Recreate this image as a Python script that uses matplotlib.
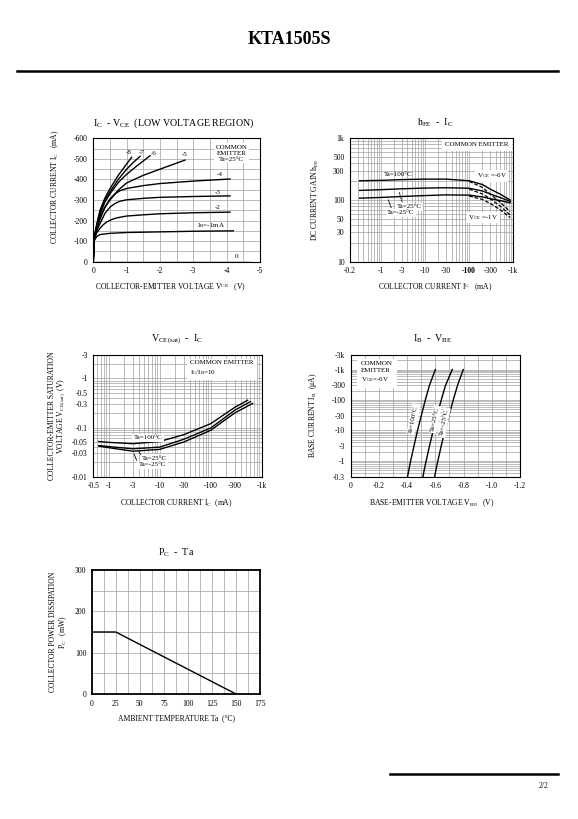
import numpy as np
import matplotlib
matplotlib.use("Agg")
import matplotlib.pyplot as plt
from matplotlib.lines import Line2D
from matplotlib.ticker import LogLocator, MultipleLocator, NullFormatter

plt.rcParams['font.family'] = 'Liberation Serif'
plt.rcParams['mathtext.fontset'] = 'custom'
plt.rcParams['mathtext.rm'] = 'Liberation Serif'
plt.rcParams['mathtext.it'] = 'Liberation Serif:italic'
plt.rcParams['mathtext.bf'] = 'Liberation Serif:bold'

# ---- IC - VCE data (VCE in V, IC in mA, shown as negative values) ----
vce_1 = [0, 0.02, 0.1, 0.2, 0.5, 1, 2, 3, 4.2]
ic_1 = [0, 100, 122, 132, 138, 142, 145, 148, 150]
vce_2 = [0, 0.02, 0.1, 0.2, 0.3, 0.4, 0.55, 0.7, 1, 1.5, 2, 3, 4.1]
ic_2 = [0, 105, 140, 162, 180, 193, 205, 213, 222, 228, 233, 238, 241]
vce_3 = [0, 0.02, 0.1, 0.2, 0.35, 0.5, 0.65, 0.8, 1, 1.5, 2, 3, 4.1]
ic_3 = [0, 108, 150, 185, 235, 265, 283, 294, 301, 308, 313, 317, 320]
vce_4 = [0, 0.02, 0.1, 0.2, 0.35, 0.5, 0.65, 0.8, 1, 1.5, 2, 3, 4.1]
ic_4 = [0, 110, 160, 205, 265, 305, 330, 345, 356, 370, 380, 392, 402]
vce_5 = [0, 0.02, 0.1, 0.2, 0.35, 0.5, 0.75, 1, 1.5, 2, 2.75]
ic_5 = [0, 110, 165, 220, 265, 300, 348, 383, 420, 450, 494]
vce_6 = [0, 0.02, 0.1, 0.2, 0.35, 0.5, 0.75, 1, 1.3, 1.7]
ic_6 = [0, 112, 170, 230, 290, 330, 385, 425, 465, 515]
vce_7 = [0, 0.02, 0.1, 0.2, 0.35, 0.5, 0.75, 1, 1.2, 1.4]
ic_7 = [0, 112, 175, 240, 300, 340, 400, 450, 483, 512]
vce_8 = [0, 0.02, 0.1, 0.2, 0.35, 0.5, 0.75, 1, 1.15]
ic_8 = [0, 112, 180, 250, 310, 355, 420, 475, 508]
vce_0 = [0, 4.7]
ic_0 = [0, 0]

# ---- hFE - IC data ----
ic_gain = [0.33, 1, 3, 10, 30, 100, 200, 300, 500, 850]
hfe_100_6v = [205, 208, 214, 218, 218, 205, 178, 150, 125, 100]
hfe_100_1v = [205, 208, 214, 218, 218, 200, 160, 125, 92, 65]
hfe_25_6v = [143, 147, 152, 156, 158, 155, 140, 125, 110, 95]
hfe_25_1v = [143, 147, 152, 156, 158, 150, 125, 105, 80, 57]
hfe_m25_6v = [107, 110, 114, 118, 121, 120, 112, 105, 98, 90]
hfe_m25_1v = [107, 110, 114, 118, 121, 116, 102, 88, 70, 52]

# ---- VCE(sat) - IC data ----
ic_sat_100 = [0.64, 1, 3, 10, 30, 100, 300, 530]
vsat_100 = [0.052, 0.050, 0.047, 0.052, 0.072, 0.12, 0.26, 0.36]
ic_sat_25 = [0.64, 1, 3, 10, 30, 100, 300, 600]
vsat_25 = [0.043, 0.041, 0.037, 0.040, 0.058, 0.098, 0.227, 0.337]
ic_sat_m25 = [0.64, 1, 3, 10, 30, 100, 300, 665]
vsat_m25 = [0.042, 0.039, 0.033, 0.036, 0.051, 0.088, 0.20, 0.31]

# ---- IB - VBE data ----
ib_base = [0.3, 0.5, 1, 3, 10, 30, 100, 300, 1000]
vbe_100 = [0.403, 0.412, 0.425, 0.448, 0.474, 0.50, 0.529, 0.558, 0.600]
vbe_25 = [0.512, 0.521, 0.535, 0.558, 0.585, 0.612, 0.642, 0.672, 0.720]
vbe_m25 = [0.595, 0.604, 0.618, 0.641, 0.668, 0.696, 0.727, 0.757, 0.798]

# ---- PC - Ta data ----
ta = [0, 25, 150]
pc = [150, 150, 0]

# ---- tick labels ----
vce_ticks = [0, 1, 2, 3, 4, 5]
vce_labels = ["0", "-1", "-2", "-3", "-4", "-5"]
ic_ticks = [0, 100, 200, 300, 400, 500, 600]
ic_labels = ["0", "-100", "-200", "-300", "-400", "-500", "-600"]
gain_xticks = [0.2, 1, 3, 10, 30, 100, 300, 1000]
gain_xlabels = ["-0.2", "-1", "-3", "-10", "-30", "-100", "-300", "-1k"]
gain_yticks = [10, 30, 50, 100, 300, 500, 1000]
gain_ylabels = ["10", "30", "50", "100", "300", "500", "1k"]
sat_xticks = [0.5, 1, 3, 10, 30, 100, 300, 1000]
sat_xlabels = ["-0.5", "-1", "-3", "-10", "-30", "-100", "-300", "-1k"]
sat_yticks = [0.01, 0.03, 0.05, 0.1, 0.3, 0.5, 1, 3]
sat_ylabels = ["-0.01", "-0.03", "-0.05", "-0.1", "-0.3", "-0.5", "-1", "-3"]
vbe_ticks = [0, 0.2, 0.4, 0.6, 0.8, 1.0, 1.2]
vbe_labels = ["0", "-0.2", "-0.4", "-0.6", "-0.8", "-1.0", "-1.2"]
ib_ticks = [0.3, 1, 3, 10, 30, 100, 300, 1000, 3000]
ib_labels = ["-0.3", "-1", "-3", "-10", "-30", "-100", "-300", "-1k", "-3k"]
ta_ticks = [0, 25, 50, 75, 100, 125, 150, 175]
pc_ticks = [0, 100, 200, 300]

W, H = 578, 819
fig = plt.figure(figsize=(W / 100, H / 100), dpi=100)


def box(l, t, r, b):
    return [l / W, 1 - b / H, (r - l) / W, (b - t) / H]


def ftext(x, y, s, **kw):
    kw.setdefault('ha', 'center')
    kw.setdefault('va', 'center')
    fig.text(x / W, 1 - y / H, s, **kw)


def style(ax, lw=0.8):
    for s in ax.spines.values():
        s.set_linewidth(lw)
    ax.tick_params(which='both', length=0, labelsize=5.5, pad=4)
    ax.grid(which='both', color='#a0a0a0', lw=0.5)
    ax.set_axisbelow(True)


white = dict(facecolor='white', edgecolor='none', pad=1.0)

# header / footer
ftext(289, 40, "KTA1505S", fontsize=13, weight='bold')
fig.add_artist(Line2D([17 / W, 558 / W], [1 - 71 / H, 1 - 71 / H], color='k', lw=1.8))
fig.add_artist(Line2D([390 / W, 558 / W], [1 - 774 / H, 1 - 774 / H], color='k', lw=1.8))
ftext(544, 786, "2/2", fontsize=5.5)

# ---------------- IC - VCE ----------------
ax1 = fig.add_axes(box(93.3, 138.3, 260, 261.7))
style(ax1)
ax1.set_xlim(0, 5)
ax1.set_ylim(0, 600)
ax1.set_xticks(vce_ticks)
ax1.set_xticklabels(vce_labels)
ax1.set_yticks(ic_ticks)
ax1.set_yticklabels(ic_labels)
ax1.xaxis.set_minor_locator(MultipleLocator(0.5))
ax1.yaxis.set_minor_locator(MultipleLocator(50))
for xs, ys in [(vce_0, ic_0), (vce_1, ic_1), (vce_2, ic_2), (vce_3, ic_3), (vce_4, ic_4),
               (vce_5, ic_5), (vce_6, ic_6), (vce_7, ic_7), (vce_8, ic_8)]:
    ax1.plot(xs, ys, color='k', lw=1.0)
ax1.text(3.1, 176, "I$_\\mathrm{B}$=-1mA", fontsize=5, va='center')
ax1.text(3.65, 262, "-2", fontsize=5, va='center')
ax1.text(3.65, 338, "-3", fontsize=5, va='center')
ax1.text(3.7, 422, "-4", fontsize=5, va='center')
ax1.text(2.65, 522, "-5", fontsize=5, va='center')
ax1.text(1.72, 528, "-6", fontsize=5, va='center')
ax1.text(1.36, 532, "-7", fontsize=5, va='center')
ax1.text(0.98, 532, "-8", fontsize=5, va='center')
ax1.text(4.25, 25, "0", fontsize=5, va='center')
ax1.text(4.15, 527, "COMMON\nEMITTER\nTa=25°C", fontsize=5, ha='center', va='center',
         linespacing=1.3, bbox=white)
ftext(174, 123, "I$_\\mathrm{C}$  - V$_\\mathrm{CE}$  (LOW VOLTAGE REGION)", fontsize=7.2)
ftext(170, 288, "COLLECTOR-EMITTER VOLTAGE V$^\\mathrm{CE}$   (V)", fontsize=5.5)
ftext(55, 187, "COLLECTOR CURRENT I$_\\mathrm{C}$   (mA)", fontsize=5.5, rotation=90)

# ---------------- hFE - IC ----------------
ax2 = fig.add_axes(box(350, 138.3, 513.3, 261.7))
style(ax2)
ax2.set_xscale('log')
ax2.set_yscale('log')
ax2.set_xlim(0.2, 1000)
ax2.set_ylim(10, 1000)
ax2.xaxis.set_minor_locator(LogLocator(subs=np.arange(2, 10)))
ax2.yaxis.set_minor_locator(LogLocator(subs=np.arange(2, 10)))
ax2.xaxis.set_minor_formatter(NullFormatter())
ax2.yaxis.set_minor_formatter(NullFormatter())
ax2.set_xticks(gain_xticks)
ax2.set_xticklabels(gain_xlabels)
ax2.set_yticks(gain_yticks)
ax2.set_yticklabels(gain_ylabels)
ax2.get_xticklabels()[5].set_weight('bold')
for ys in [hfe_100_6v, hfe_25_6v, hfe_m25_6v]:
    ax2.plot(ic_gain, ys, color='k', lw=1.0)
for ys in [hfe_100_1v, hfe_25_1v, hfe_m25_1v]:
    ax2.plot(ic_gain[5:], ys[5:], color='k', lw=0.9, ls=(0, (3, 1.5)))
ax2.text(1.2, 262, "Ta=100°C", fontsize=5, va='center')
ax2.text(2.3, 78, "Ta=25°C", fontsize=5, va='center', bbox=white)
ax2.text(1.4, 62, "Ta=-25°C", fontsize=5, va='center', bbox=white)
ax2.annotate("", xy=(2.5, 150), xytext=(3.1, 86),
             arrowprops=dict(arrowstyle='-', lw=0.6, ls=(0, (2, 1))))
ax2.annotate("", xy=(1.4, 111), xytext=(1.8, 68),
             arrowprops=dict(arrowstyle='-', lw=0.6, ls=(0, (2, 1))))
ax2.text(148, 245, "V$_\\mathrm{CE}$ =-6V", fontsize=5, va='center', bbox=white)
ax2.text(96, 52, "V$_\\mathrm{CE}$ =-1V", fontsize=5, va='center', bbox=white)
ax2.text(0.776, 0.946, "COMMON EMITTER", transform=ax2.transAxes, fontsize=5,
         ha='center', va='center', bbox=dict(facecolor='white', edgecolor='none', pad=2.5))
ftext(435, 123, "h$_\\mathrm{FE}$  -  I$_\\mathrm{C}$", fontsize=7.2)
ftext(435, 288, "COLLECTOR CURRENT I$^\\mathrm{C}$   (mA)", fontsize=5.5)
ftext(315, 200, "DC CURRENT GAIN h$_\\mathrm{FE}$", fontsize=5.5, rotation=90)

# ---------------- VCE(sat) - IC ----------------
ax3 = fig.add_axes(box(93.3, 355, 261.7, 476.7))
style(ax3)
ax3.set_xscale('log')
ax3.set_yscale('log')
ax3.set_xlim(0.5, 1000)
ax3.set_ylim(0.01, 3)
ax3.xaxis.set_minor_locator(LogLocator(subs=np.arange(2, 10)))
ax3.yaxis.set_minor_locator(LogLocator(subs=np.arange(2, 10)))
ax3.xaxis.set_minor_formatter(NullFormatter())
ax3.yaxis.set_minor_formatter(NullFormatter())
ax3.set_xticks(sat_xticks)
ax3.set_xticklabels(sat_xlabels)
ax3.set_yticks(sat_yticks)
ax3.set_yticklabels(sat_ylabels)
ax3.plot(ic_sat_100, vsat_100, color='k', lw=1.0)
ax3.plot(ic_sat_25, vsat_25, color='k', lw=1.0)
ax3.plot(ic_sat_m25, vsat_m25, color='k', lw=1.0)
ax3.text(3.1, 0.062, "Ta=100°C", fontsize=5, va='center', bbox=white)
ax3.text(4.5, 0.0238, "Ta=25°C", fontsize=5, va='center', bbox=white)
ax3.text(3.9, 0.0174, "Ta=-25°C", fontsize=5, va='center', bbox=white)
ax3.annotate("", xy=(3.6, 0.036), xytext=(4.6, 0.0255),
             arrowprops=dict(arrowstyle='-', lw=0.6))
ax3.annotate("", xy=(3.0, 0.033), xytext=(3.7, 0.019),
             arrowprops=dict(arrowstyle='-', lw=0.6))
ax3.text(0.575, 0.89, "COMMON EMITTER\nI$_\\mathrm{C}$/I$_\\mathrm{B}$=10", transform=ax3.transAxes,
         fontsize=5, ha='left', va='center', linespacing=1.4,
         bbox=dict(facecolor='white', edgecolor='none', pad=2.5))
ftext(177, 339, "V$_\\mathrm{CE(sat)}$  -  I$_\\mathrm{C}$", fontsize=7.2)
ftext(176, 503, "COLLECTOR CURRENT I$_\\mathrm{C}$  (mA)", fontsize=5.5)
ftext(51.7, 416, "COLLECTOR-EMITTER SATURATION", fontsize=5.5, rotation=90)
ftext(60.7, 416, "VOLTAGE V$_\\mathrm{CE(sat)}$  (V)", fontsize=5.5, rotation=90)

# ---------------- IB - VBE ----------------
ax4 = fig.add_axes(box(350.7, 355, 520, 476.7))
style(ax4)
ax4.set_yscale('log')
ax4.set_xlim(0, 1.2)
ax4.set_ylim(0.3, 3000)
ax4.xaxis.set_minor_locator(MultipleLocator(0.1))
ax4.yaxis.set_minor_locator(LogLocator(subs=np.arange(2, 10)))
ax4.yaxis.set_minor_formatter(NullFormatter())
ax4.set_xticks(vbe_ticks)
ax4.set_xticklabels(vbe_labels)
ax4.set_yticks(ib_ticks)
ax4.set_yticklabels(ib_labels)
ax4.plot(vbe_100, ib_base, color='k', lw=1.0)
ax4.plot(vbe_25, ib_base, color='k', lw=1.0)
ax4.plot(vbe_m25, ib_base, color='k', lw=1.0)
ax4.text(0.444, 23, "Ta=100°C", fontsize=5, rotation=78, ha='center', va='center', bbox=white)
ax4.text(0.597, 23, "Ta=25°C", fontsize=5, rotation=78, ha='center', va='center', bbox=white)
ax4.text(0.661, 18, "Ta=-25°C", fontsize=5, rotation=78, ha='center', va='center', bbox=white)
ax4.text(0.06, 0.855, "COMMON\nEMITTER\nV$_\\mathrm{CE}$=-6V", transform=ax4.transAxes,
         fontsize=5, ha='left', va='center', linespacing=1.35,
         bbox=dict(facecolor='white', edgecolor='none', pad=3))
ftext(433, 339, "I$_\\mathrm{B}$  -  V$_\\mathrm{BE}$", fontsize=7.2)
ftext(432, 503, "BASE-EMITTER VOLTAGE V$_\\mathrm{BE}$   (V)", fontsize=5.5)
ftext(313, 415, "BASE CURRENT I$_\\mathrm{B}$  (μA)", fontsize=5.5, rotation=90)

# ---------------- PC - Ta ----------------
ax5 = fig.add_axes(box(91.7, 570, 260, 694))
style(ax5, lw=1.3)
ax5.set_xlim(0, 175)
ax5.set_ylim(0, 300)
ax5.set_xticks(ta_ticks)
ax5.set_yticks(pc_ticks)
ax5.xaxis.set_minor_locator(MultipleLocator(12.5))
ax5.yaxis.set_minor_locator(MultipleLocator(50))
ax5.plot(ta, pc, color='k', lw=1.0)
ftext(176, 553, "P$_\\mathrm{C}$  -  Ta", fontsize=7.2)
ftext(176, 718, "AMBIENT TEMPERATURE Ta  (°C)", fontsize=5.5)
ftext(53, 632, "COLLECTOR POWER DISSIPATION", fontsize=5.5, rotation=90)
ftext(63, 632, "P$_\\mathrm{C}$   (mW)", fontsize=5.5, rotation=90)

fig.savefig("out.png", dpi=100)
